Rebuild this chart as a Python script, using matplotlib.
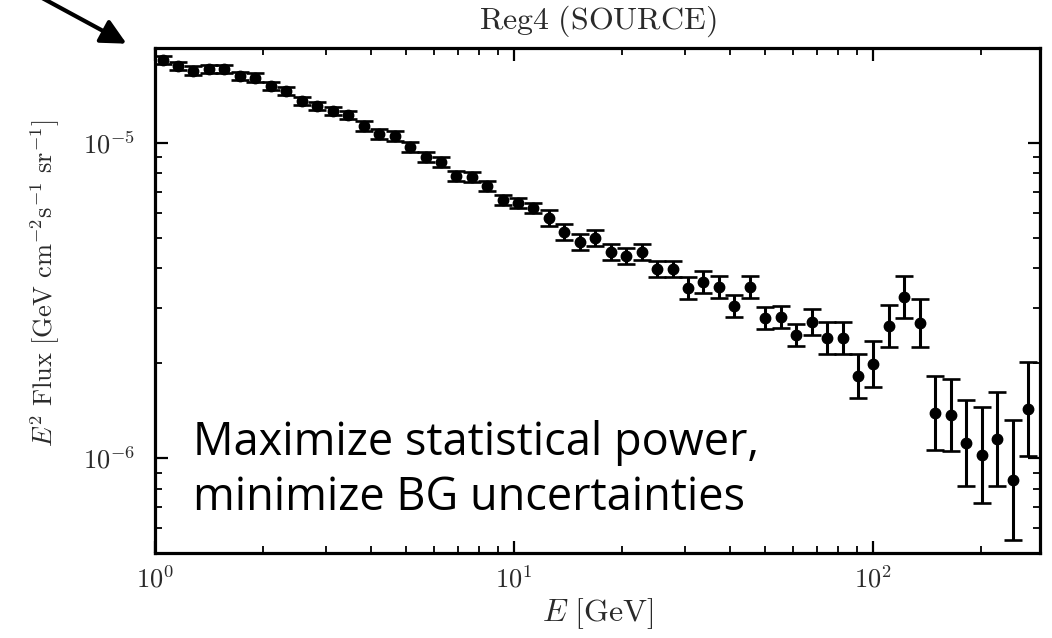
import numpy as np
import matplotlib
matplotlib.use('Agg')
import matplotlib.pyplot as plt
from matplotlib.ticker import LogLocator, FuncFormatter, NullFormatter

plt.rcParams['mathtext.fontset'] = 'cm'
plt.rcParams['axes.unicode_minus'] = False

# Energy bin centres [GeV]
energy = [1.05, 1.16, 1.28, 1.41, 1.56, 1.72, 1.90, 2.10, 2.32, 2.56,
          2.83, 3.13, 3.45, 3.81, 4.21, 4.65, 5.13, 5.67, 6.26, 6.91,
          7.63, 8.42, 9.30, 10.27, 11.33, 12.52, 13.82, 15.26, 16.85, 18.61,
          20.55, 22.69, 25.05, 27.66, 30.54, 33.72, 37.23, 41.11, 45.39, 50.12,
          55.35, 61.11, 67.48, 74.51, 82.27, 90.84, 100.3, 110.8, 122.3, 135.0,
          149.1, 164.7, 181.8, 200.8, 221.7, 244.8, 270.3]

# E^2 flux [GeV cm^-2 s^-1 sr^-1]
flux = [1.834e-5, 1.756e-5, 1.696e-5, 1.714e-5, 1.714e-5, 1.632e-5, 1.612e-5, 1.517e-5, 1.462e-5, 1.359e-5,
        1.313e-5, 1.264e-5, 1.224e-5, 1.132e-5, 1.066e-5, 1.052e-5, 9.71e-6, 9.05e-6, 8.70e-6, 7.86e-6,
        7.82e-6, 7.30e-6, 6.59e-6, 6.45e-6, 6.22e-6, 5.78e-6, 5.22e-6, 4.85e-6, 4.99e-6, 4.51e-6,
        4.38e-6, 4.51e-6, 3.98e-6, 3.98e-6, 3.46e-6, 3.62e-6, 3.49e-6, 3.04e-6, 3.49e-6, 2.78e-6,
        2.80e-6, 2.46e-6, 2.70e-6, 2.40e-6, 2.40e-6, 1.82e-6, 1.99e-6, 2.62e-6, 3.24e-6, 2.68e-6,
        1.39e-6, 1.37e-6, 1.117e-6, 1.022e-6, 1.148e-6, 8.51e-7, 1.43e-6]

# half-length of each error bar, in decades
err_dex = [0.013, 0.013, 0.013, 0.013, 0.013, 0.013, 0.013, 0.013, 0.013, 0.013,
           0.013, 0.013, 0.013, 0.016, 0.016, 0.016, 0.016, 0.016, 0.016, 0.016,
           0.016, 0.016, 0.016, 0.016, 0.016, 0.025, 0.025, 0.025, 0.025, 0.025,
           0.025, 0.025, 0.025, 0.025, 0.035, 0.035, 0.035, 0.035, 0.035, 0.035,
           0.035, 0.035, 0.041, 0.051, 0.051, 0.070, 0.073, 0.067, 0.067, 0.076,
           0.117, 0.114, 0.137, 0.152, 0.149, 0.190, 0.149]

E = np.array(energy)
F = np.array(flux)
d = np.array(err_dex)
yerr = [F - F * 10 ** (-d), F * 10 ** d - F]

fig = plt.figure(figsize=(10.52, 6.38), dpi=100)
ax = fig.add_axes([155 / 1052, 1 - 553 / 638, 885 / 1052, 505 / 638])

ax.errorbar(E, F, yerr=yerr, fmt='o', color='black', ms=7.5,
            elinewidth=2.2, capsize=6.5, capthick=1.9)

ax.set_xscale('log')
ax.set_yscale('log')
ax.set_xlim(1, 292)
ax.set_ylim(5e-7, 2e-5)

ax.xaxis.set_major_locator(LogLocator(base=10, numticks=10))
ax.xaxis.set_minor_locator(LogLocator(base=10, subs=np.arange(2, 10), numticks=20))
ax.yaxis.set_major_locator(LogLocator(base=10, numticks=10))
ax.yaxis.set_minor_locator(LogLocator(base=10, subs=np.arange(2, 10), numticks=20))
fmt = FuncFormatter(lambda v, p: r'$10^{%d}$' % int(round(np.log10(v))))
ax.xaxis.set_major_formatter(fmt)
ax.yaxis.set_major_formatter(fmt)
ax.xaxis.set_minor_formatter(NullFormatter())
ax.yaxis.set_minor_formatter(NullFormatter())

ax.tick_params(which='both', direction='in', top=True, right=True, colors='black',
               labelcolor='#2a2a2a', labelsize=19)
ax.tick_params(which='major', length=9, width=1.6)
ax.tick_params(which='minor', length=5, width=1.3)
ax.tick_params(axis='x', pad=10)
ax.tick_params(axis='y', pad=14)
for sp in ax.spines.values():
    sp.set_linewidth(2.3)

ax.set_title(r'$\mathrm{Reg4\ (SOURCE)}$', fontsize=23, color='#2a2a2a', pad=14)
ax.set_xlabel(r'$E\ [\mathrm{GeV}]$', fontsize=23, color='#2a2a2a', labelpad=2)
ax.set_ylabel(r'$E^2\ \mathrm{Flux}\ [\mathrm{GeV\ cm^{-2}s^{-1}\ sr^{-1}}]$',
              fontsize=19, color='#2a2a2a')
ax.yaxis.set_label_coords(-0.105, 0.535)

fig.text(193 / 1052, 1 - 510 / 638, 'Maximize statistical power,\nminimize BG uncertainties',
         family='Open Sans', fontsize=32.5, color='black', va='baseline', ha='left', linespacing=1.26)

ax.annotate('', xy=(129 / 1052, 1 - 45 / 638), xycoords='figure fraction',
            xytext=(40 / 1052, 1.005), textcoords='figure fraction',
            arrowprops=dict(arrowstyle='-|>', color='black', lw=3, mutation_scale=38),
            annotation_clip=False)

fig.savefig('out.png', dpi=100)
